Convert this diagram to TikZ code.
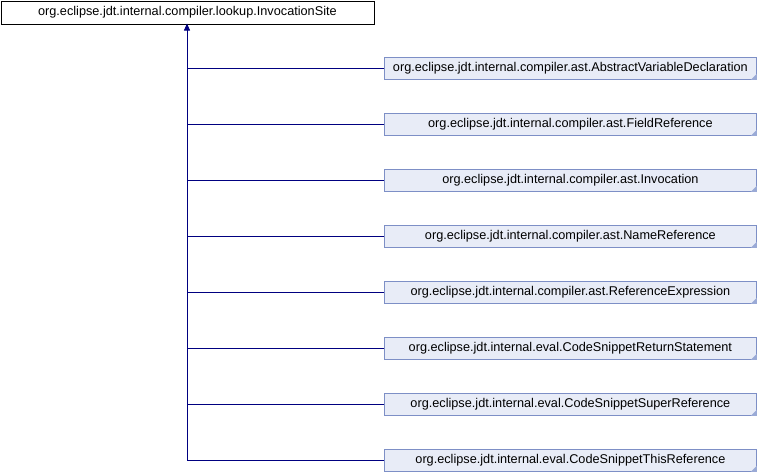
\documentclass[tikz,border=0pt]{standalone}
\usepackage{fontspec}
\setmainfont{Liberation Sans}
\definecolor{edgecol}{HTML}{000080}
\definecolor{boxfill}{HTML}{E8ECF7}
\definecolor{boxdraw}{HTML}{7D8FC6}
\definecolor{cornerfill}{HTML}{9AAAD6}
\tikzset{
  basebox/.style={draw=black, fill=white, line width=0.8pt, minimum width=373pt, minimum height=23pt, inner sep=0pt, font=\fontsize{12.7}{14}\selectfont, anchor=north west},
  childbox/.style={draw=boxdraw, fill=boxfill, line width=0.8pt, minimum width=372pt, minimum height=22pt, inner sep=0pt, font=\fontsize{12.7}{14}\selectfont, anchor=north west},
  edge/.style={draw=edgecol, line width=0.8pt},
}
\newcommand{\foldcorner}[1]{\fill[cornerfill] ($(#1.south east)+(-6pt,0)$) -- ($(#1.south east)+(0,6pt)$) -- (#1.south east) -- cycle;}
\usetikzlibrary{calc,arrows.meta}
\begin{document}
\begin{tikzpicture}[x=1pt,y=-1pt]
\useasboundingbox (0,0) rectangle (758,472);
\node[basebox] (base) at (0.5,0.5) {org.eclipse.jdt.internal.compiler.lookup.InvocationSite};
\node[childbox] (c1) at (384,57) {org.eclipse.jdt.internal.compiler.ast.AbstractVariableDeclaration};
\node[childbox] (c2) at (384,113) {org.eclipse.jdt.internal.compiler.ast.FieldReference};
\node[childbox] (c3) at (384,169) {org.eclipse.jdt.internal.compiler.ast.Invocation};
\node[childbox] (c4) at (384,225) {org.eclipse.jdt.internal.compiler.ast.NameReference};
\node[childbox] (c5) at (384,281) {org.eclipse.jdt.internal.compiler.ast.ReferenceExpression};
\node[childbox] (c6) at (384,337) {org.eclipse.jdt.internal.eval.CodeSnippetReturnStatement};
\node[childbox] (c7) at (384,393) {org.eclipse.jdt.internal.eval.CodeSnippetSuperReference};
\node[childbox] (c8) at (384,449) {org.eclipse.jdt.internal.eval.CodeSnippetThisReference};
\foreach \n in {c1,c2,c3,c4,c5,c6,c7,c8} {\foldcorner{\n}}
\coordinate (trunk) at (187,23.5);
\foreach \n in {c1,c2,c3,c4,c5,c6,c7,c8} {
  \draw[edge] (\n.west) -- (\n.west -| trunk);
}
\draw[edge, -{Triangle[length=7pt,width=6pt]}] (c8.west -| trunk) -- (trunk);
\end{tikzpicture}
\end{document}
